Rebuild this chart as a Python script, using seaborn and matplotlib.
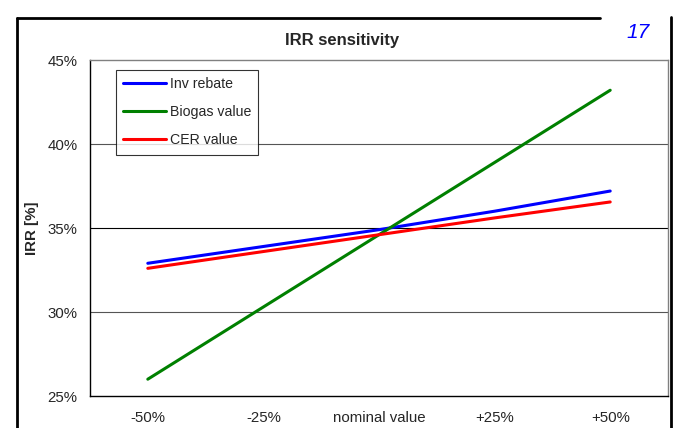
import numpy as np
import pandas as pd
import matplotlib
matplotlib.use('Agg')
import matplotlib.pyplot as plt
import matplotlib.ticker as mtick
from matplotlib.lines import Line2D
import seaborn as sns

# Data
categories = ['-50%', '-25%', 'nominal value', '+25%', '+50%']
inv_rebate = [32.9, 33.9, 34.9, 36.0, 37.2]
biogas_value = [26.0, 30.3, 34.6, 38.9, 43.2]
cer_value = [32.6, 33.6, 34.6, 35.6, 36.55]

series_names = ['Inv rebate', 'Biogas value', 'CER value']
series_colors = ['#0000ff', '#008000', '#ff0000']

df = pd.DataFrame({
    'pos': list(range(len(categories))) * 3,
    'irr': inv_rebate + biogas_value + cer_value,
    'series': [s for s in series_names for _ in categories],
})

sns.set_style('white')
plt.rcParams['font.family'] = ['Liberation Sans', 'DejaVu Sans']

fig = plt.figure(figsize=(6.73, 4.28), dpi=100)
ax = fig.add_axes([90 / 673, 1 - 396 / 428, 578 / 673, 336 / 428])

sns.lineplot(data=df, x='pos', y='irr', hue='series', palette=series_colors,
             hue_order=series_names, linewidth=2.2, ax=ax)

ax.set_xlim(-0.5, 4.5)
ax.set_ylim(25, 45)
ax.set_yticks([25, 30, 35, 40, 45])
ax.yaxis.set_major_formatter(mtick.FuncFormatter(lambda v, p: f'{v:.0f}%'))
ax.set_xticks(np.arange(-0.5, 5, 1))
ax.set_xticklabels([])
ax.set_xticks(range(len(categories)), minor=True)
ax.set_xticklabels(categories, minor=True, fontsize=10.8)
ax.tick_params(axis='x', which='major', length=4, width=0.8, color='black', direction='out')
ax.tick_params(axis='x', which='minor', length=0, pad=11)
ax.tick_params(axis='y', length=4, width=0.8, color='black', direction='out', labelsize=10.8, pad=5)
ax.set_xlabel('')
ax.set_ylabel('IRR [%]', fontsize=10.8, fontweight='bold', labelpad=6)

for yv, col in [(40, '#555555'), (35, '#000000'), (30, '#555555')]:
    ax.axhline(yv, color=col, linewidth=0.8, zorder=0)

for side in ['top', 'right']:
    ax.spines[side].set_color('#808080')
    ax.spines[side].set_linewidth(1.0)
for side in ['left', 'bottom']:
    ax.spines[side].set_color('black')
    ax.spines[side].set_linewidth(1.0)

leg = ax.legend(loc='upper left', bbox_to_anchor=(26 / 578, 326 / 336), fontsize=10.2,
                frameon=True, fancybox=False, handlelength=3.0, handletextpad=0.3,
                borderpad=0.5, labelspacing=1.0, borderaxespad=0)
leg.get_frame().set_edgecolor('black')
leg.get_frame().set_linewidth(0.8)

fig.text(342 / 673, 1 - 40 / 428, 'IRR sensitivity', ha='center', va='center',
         fontsize=12, fontweight='bold')
fig.text(638 / 673, 1 - 33 / 428, '17', ha='center', va='center',
         fontsize=15, style='italic', color='#0000ff')

# outer chart frame (top edge broken near the page number)
fig.add_artist(Line2D([17 / 673, 17 / 673], [0, 1 - 18 / 428], color='black', linewidth=2,
                      transform=fig.transFigure))
fig.add_artist(Line2D([17 / 673, 600 / 673], [1 - 18 / 428, 1 - 18 / 428], color='black',
                      linewidth=2, transform=fig.transFigure))
fig.add_artist(Line2D([671 / 673, 671 / 673], [0, 1 - 17 / 428], color='black', linewidth=2,
                      transform=fig.transFigure))

fig.savefig('out.png', dpi=100)
